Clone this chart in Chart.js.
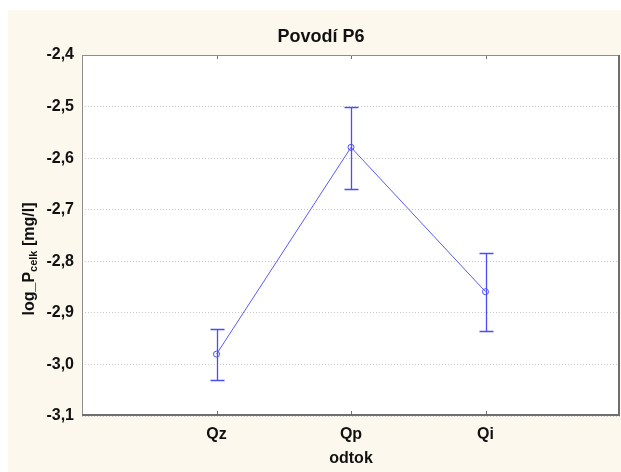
<!DOCTYPE html>
<html>
<head>
    <title>Povodí P6</title>
    <script src="https://cdn.jsdelivr.net/npm/chart.js"></script>
    <style>
        html, body { margin: 0; padding: 0; background: #ffffff; }
        #chartBox { width: 621px; height: 472px; }
    </style>
</head>
<body>

    <div id="chartBox">
        <canvas id="meanChart"></canvas>
    </div>

    <script>
        // Group means of log_P_celk per discharge phase, with interval bounds
        var categories = ["Qz", "Qp", "Qi"];
        var categoryPos = [1, 2, 3];
        var means = [-2.98, -2.579, -2.859];
        var lowerBound = [-3.03, -2.659, -2.936];
        var upperBound = [-2.931, -2.50, -2.783];

        var lineColor = "#5a5aff";
        var font = "'Liberation Sans', Arial, sans-serif";

        // Background, frame, inner tick marks, error bars and titles
        var decor = {
            id: "decor",
            beforeDraw: function (chart) {
                var ctx = chart.ctx;
                var a = chart.chartArea;
                ctx.save();
                ctx.fillStyle = "#ffffff";
                ctx.fillRect(0, 0, chart.width, chart.height);
                ctx.fillStyle = "#fdf8ee";
                ctx.fillRect(8, 10, chart.width - 8, chart.height - 10);
                ctx.fillStyle = "#ffffff";
                ctx.fillRect(a.left, a.top, a.right - a.left, a.bottom - a.top);
                ctx.restore();
            },
            afterDatasetsDraw: function (chart) {
                var ctx = chart.ctx;
                var xs = chart.scales.x;
                var ys = chart.scales.y;
                ctx.save();
                ctx.strokeStyle = "#4c4cff";
                ctx.lineWidth = 1.3;
                for (var i = 0; i < means.length; i++) {
                    var x = Math.round(xs.getPixelForValue(categoryPos[i])) + 0.5;
                    var yTop = Math.round(ys.getPixelForValue(upperBound[i])) + 0.5;
                    var yBot = Math.round(ys.getPixelForValue(lowerBound[i])) + 0.5;
                    ctx.beginPath();
                    ctx.moveTo(x, yTop);
                    ctx.lineTo(x, yBot);
                    ctx.moveTo(x - 7, yTop);
                    ctx.lineTo(x + 7, yTop);
                    ctx.moveTo(x - 7, yBot);
                    ctx.lineTo(x + 7, yBot);
                    ctx.stroke();
                }
                ctx.restore();
            },
            afterDraw: function (chart) {
                var ctx = chart.ctx;
                var a = chart.chartArea;
                var xs = chart.scales.x;
                ctx.save();

                // frame with a darker right/bottom edge
                ctx.strokeStyle = "#8c8c8c";
                ctx.lineWidth = 1;
                ctx.beginPath();
                ctx.moveTo(a.left + 0.5, a.bottom);
                ctx.lineTo(a.left + 0.5, a.top + 0.5);
                ctx.lineTo(a.right, a.top + 0.5);
                ctx.stroke();
                ctx.strokeStyle = "#6e6e6e";
                ctx.lineWidth = 2;
                ctx.beginPath();
                ctx.moveTo(a.right - 1, a.top);
                ctx.lineTo(a.right - 1, a.bottom - 1);
                ctx.lineTo(a.left, a.bottom - 1);
                ctx.stroke();

                // small inward ticks on the top and bottom edges
                ctx.strokeStyle = "#707070";
                ctx.lineWidth = 1;
                ctx.beginPath();
                categoryPos.forEach(function (p) {
                    var x = Math.round(xs.getPixelForValue(p)) + 0.5;
                    ctx.moveTo(x, a.bottom - 2);
                    ctx.lineTo(x, a.bottom - 5);
                    ctx.moveTo(x, a.top + 1);
                    ctx.lineTo(x, a.top + 4);
                });
                ctx.stroke();

                ctx.fillStyle = "#111111";
                ctx.textAlign = "center";
                ctx.textBaseline = "middle";

                // chart title
                ctx.font = "bold 18px " + font;
                ctx.fillText("Povodí P6", 321, 37);

                // x axis title
                ctx.font = "bold 16px " + font;
                ctx.fillText("odtok", 351, 459);

                // y axis title with subscript
                ctx.translate(30, 259);
                ctx.rotate(-Math.PI / 2);
                var big = "bold 16px " + font;
                var small = "bold 11px " + font;
                ctx.font = big;
                var w1 = ctx.measureText("log_P").width;
                var w3 = ctx.measureText(" [mg/l]").width;
                ctx.font = small;
                var w2 = ctx.measureText("celk").width;
                var x0 = -(w1 + w2 + w3) / 2;
                ctx.textAlign = "left";
                ctx.font = big;
                ctx.fillText("log_P", x0, 0);
                ctx.font = small;
                ctx.fillText("celk", x0 + w1, 4);
                ctx.font = big;
                ctx.fillText(" [mg/l]", x0 + w1 + w2, 0);

                ctx.restore();
            }
        };

        new Chart(document.getElementById("meanChart"), {
            type: "line",
            data: {
                datasets: [{
                    data: categoryPos.map(function (p, i) { return { x: p, y: means[i] }; }),
                    borderColor: lineColor,
                    borderWidth: 1,
                    pointRadius: 3,
                    pointBorderWidth: 1,
                    pointBorderColor: "#4c4cff",
                    pointBackgroundColor: "rgba(0,0,0,0)",
                    tension: 0,
                    fill: false
                }]
            },
            options: {
                responsive: true,
                maintainAspectRatio: false,
                animation: false,
                layout: {
                    autoPadding: false,
                    padding: { left: 0, top: 55, right: 1, bottom: 0 }
                },
                plugins: {
                    legend: { display: false },
                    title: { display: false },
                    tooltip: { enabled: false }
                },
                scales: {
                    x: {
                        type: "linear",
                        min: 0,
                        max: 4,
                        afterBuildTicks: function (scale) {
                            scale.ticks = categoryPos.map(function (p) { return { value: p }; });
                        },
                        afterFit: function (scale) {
                            scale.height = 56;
                            scale.paddingLeft = 0;
                            scale.paddingRight = 0;
                        },
                        grid: { display: false, drawTicks: false },
                        border: { display: false },
                        ticks: {
                            padding: 9,
                            color: "#111111",
                            font: { family: font, size: 16, weight: "bold" },
                            callback: function (v) { return categories[categoryPos.indexOf(v)]; }
                        }
                    },
                    y: {
                        min: -3.1,
                        max: -2.4,
                        afterFit: function (scale) {
                            scale.width = 82;
                            scale.paddingTop = 0;
                            scale.paddingBottom = 0;
                        },
                        grid: { color: "#c8c8c8", drawTicks: false, lineWidth: 1 },
                        border: { display: false, dash: [1, 2] },
                        ticks: {
                            stepSize: 0.1,
                            padding: 8,
                            color: "#111111",
                            font: { family: font, size: 16, weight: "bold" },
                            callback: function (v) { return Number(v).toFixed(1).replace(".", ","); }
                        }
                    }
                }
            },
            plugins: [decor]
        });
    </script>

</body>
</html>
